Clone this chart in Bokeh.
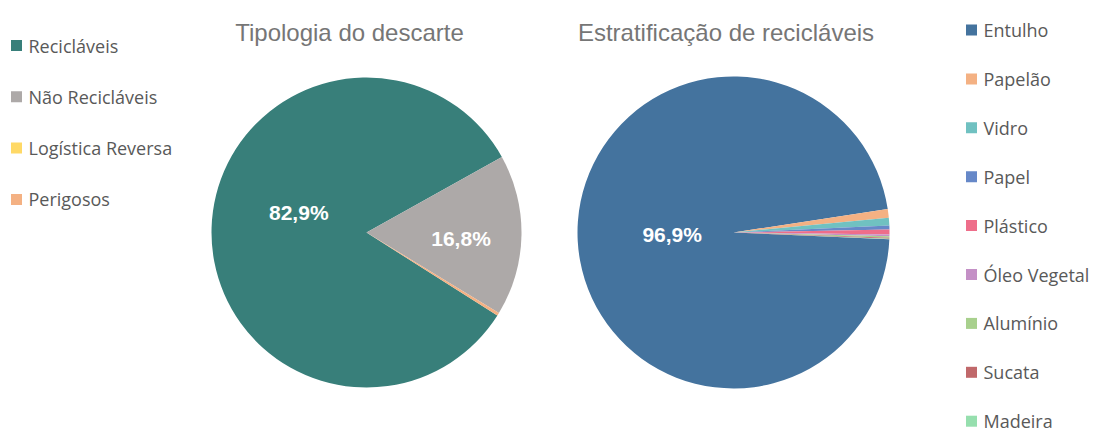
import math
from bokeh.plotting import figure
from bokeh.models import Range1d
from bokeh.core.properties import value
from bokeh.embed import file_html
from bokeh.resources import INLINE

# ---- data ----
left_title = "Tipologia do descarte"
left_cats = ["Recicláveis", "Não Recicláveis", "Logística Reversa", "Perigosos"]
left_vals = [82.9, 16.8, 0.0, 0.3]
left_colors = ["#387F7A", "#ADA9A8", "#FFD966", "#F4B183"]

right_title = "Estratificação de recicláveis"
right_cats = ["Entulho", "Papelão", "Vidro", "Papel", "Plástico",
              "Óleo Vegetal", "Alumínio", "Sucata", "Madeira"]
right_vals = [96.9, 0.9, 0.8, 0.4, 0.5, 0.2, 0.15, 0.1, 0.05]
right_colors = ["#44739E", "#F4B183", "#70C1C1", "#6688C8", "#EE6E8A",
                "#C490C6", "#A8D08D", "#C0686A", "#96DFAE"]

W, H = 1095, 434
p = figure(width=W, height=H, output_backend="svg", toolbar_location=None,
           x_range=Range1d(0, W), y_range=Range1d(0, H), min_border=0)
p.axis.visible = False
p.grid.visible = False
p.outline_line_color = None


def px(x):
    return x


def py(y):
    return H - y


LABEL_FONT = value("Liberation Sans")
LEG_FONT = value("Open Sans")


def draw_pie(cx, cy, r, vals, colors, first_angle_deg, label_r, label_off):
    total = sum(vals)
    theta = first_angle_deg
    xs, ys, starts, ends, cols = [], [], [], [], []
    lx, ly, lt = [], [], []
    for v, c, fr, off in zip(vals, colors, label_r, label_off):
        sweep = 360.0 * v / total
        a0 = theta
        a1 = theta + sweep
        if v > 0:
            xs.append(cx)
            ys.append(cy)
            starts.append(math.radians(90 - a0))
            ends.append(math.radians(90 - a1))
            cols.append(c)
        mid = math.radians(90 - (a0 + a1) / 2)
        if v / total >= 0.05:
            lx.append(cx + fr * r * math.cos(mid) + off[0])
            ly.append(cy + fr * r * math.sin(mid) - off[1])
            lt.append(("%.1f%%" % v).replace(".", ","))
        theta = a1
    p.wedge(x=xs, y=ys, radius=r, start_angle=starts, end_angle=ends,
            direction="clock", fill_color=cols, line_color=None)
    p.text(x=lx, y=ly, text=lt, text_color="white", text_font=LABEL_FONT,
           text_font_style="bold", text_font_size="21px",
           text_align="center", text_baseline="middle")


draw_pie(px(366), py(232), 155, left_vals, left_colors, 122.4,
         [0.45, 0.61, 0.6, 0.6], [(2, -18), (0, 4), (0, 0), (0, 0)])
draw_pie(px(733), py(232), 156, right_vals, right_colors, 92.5,
         [0.40] + [0.6] * 8, [(1, -1)] + [(0, 0)] * 8)

# titles
p.text(x=[px(349), px(725.5)], y=[py(31.5), py(31.5)],
       text=[left_title, right_title],
       text_color="#767676", text_font=LABEL_FONT, text_font_size="24px",
       text_align="center", text_baseline="alphabetic")


# legends
def legend(cats, colors, sx, tx, y0, dy):
    ys = [py(y0 + i * dy) for i in range(len(cats))]
    p.rect(x=[px(sx)] * len(cats), y=ys, width=11, height=11,
           fill_color=colors, line_color=None)
    p.text(x=[px(tx)] * len(cats), y=ys, text=cats, text_color="#595959",
           text_font=LEG_FONT, text_font_size="18px",
           text_align="left", text_baseline="middle")


legend(left_cats, left_colors, 16, 28, 45, 51.3)
legend(right_cats, right_colors, 971, 983, 29.5, 48.9)

open("out.html", "w").write(file_html(p, INLINE))
